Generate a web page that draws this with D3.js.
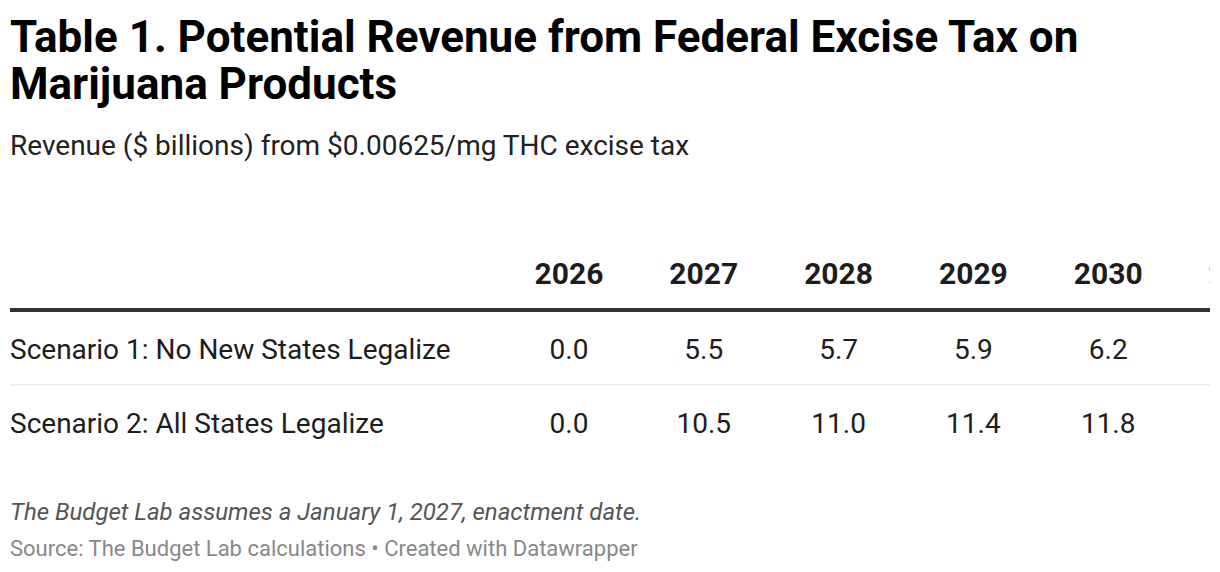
<!DOCTYPE html>
<html><head><meta charset="utf-8">
<script src="https://cdn.jsdelivr.net/npm/d3@7"></script>
<style>
html,body{margin:0;padding:0;background:#fff;}
svg{display:block;font-family:Roboto,"Noto Sans",sans-serif;}
</style></head>
<body>
<svg id="c" width="1220" height="572"></svg>
<script>
const titleLines = ["Table 1. Potential Revenue from Federal Excise Tax on", "Marijuana Products"];
const subtitle = "Revenue ($ billions) from $0.00625/mg THC excise tax";
const years = ["2026","2027","2028","2029","2030","2031"];
const scenarios = ["Scenario 1: No New States Legalize", "Scenario 2: All States Legalize"];
const scenario1 = [0.0, 5.5, 5.7, 5.9, 6.2, 6.4];
const scenario2 = [0.0, 10.5, 11.0, 11.4, 11.8, 12.2];
const note = "The Budget Lab assumes a January 1, 2027, enactment date.";
const source = "Source: The Budget Lab calculations • Created with Datawrapper";

const svg = d3.select("#c");
const L = 10, R = 1210;

svg.append("text").attr("x", L).attr("y", 52)
  .attr("font-size", 44).attr("font-weight", 700).attr("fill", "#000")
  .selectAll("tspan").data(titleLines).join("tspan")
  .attr("x", L).attr("dy", (d,i)=> i ? 47 : 0).text(d=>d);

svg.append("text").attr("x", L).attr("y", 155)
  .attr("font-size", 28).attr("fill", "#222").text(subtitle);

// table area clipped (the table scrolls horizontally in the original)
svg.append("clipPath").attr("id","tclip").append("rect")
  .attr("x", 0).attr("y", 200).attr("width", R).attr("height", 280);
const t = svg.append("g").attr("clip-path","url(#tclip)");

const x = d3.scaleLinear().domain([0, 1]).range([569, 703.8]);
const rows = [scenario1, scenario2];
const rowY = d3.scaleLinear().domain([0, 1]).range([358.5, 432.5]);

t.selectAll("text.hd").data(years).join("text").attr("class","hd")
  .attr("x", (d,i)=>x(i)).attr("y", 284).attr("text-anchor","middle")
  .attr("font-size", 30).attr("font-weight", 700).attr("fill","#1d1d1d").text(d=>d);

t.append("rect").attr("x", L).attr("y", 308).attr("width", 1300).attr("height", 4).attr("fill","#333");
t.append("rect").attr("x", L).attr("y", 384).attr("width", 1300).attr("height", 1.5).attr("fill","#e8e8e8");

rows.forEach((vals, r) => {
  t.append("text").attr("x", L).attr("y", rowY(r)).attr("font-size", 28).attr("fill","#1d1d1d").text(scenarios[r]);
  t.selectAll("text.v"+r).data(vals).join("text").attr("class","v"+r)
    .attr("x", (d,i)=>x(i)).attr("y", rowY(r)).attr("text-anchor","middle")
    .attr("font-size", 28).attr("fill","#1d1d1d").text(d=>d3.format(".1f")(d));
});

svg.append("text").attr("x", L).attr("y", 520).attr("font-size", 24).attr("font-style","italic")
  .attr("fill","#555").text(note);
svg.append("text").attr("x", L).attr("y", 556).attr("font-size", 22)
  .attr("fill","#888").text(source);
</script>
</body></html>
